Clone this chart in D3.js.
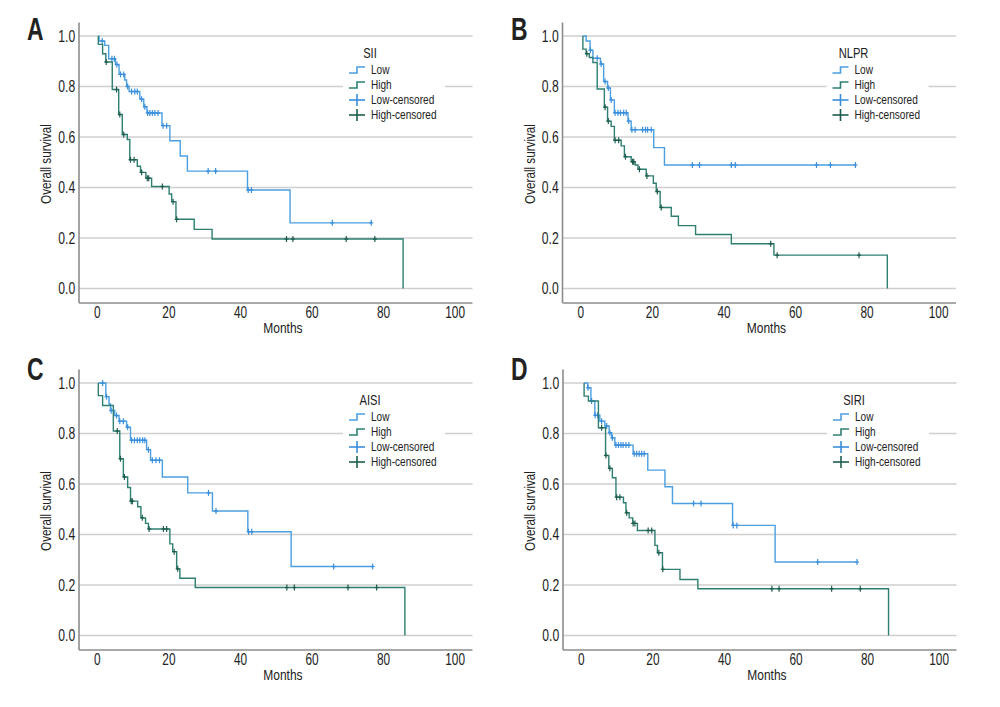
<!DOCTYPE html>
<html>
<head>
<meta charset="utf-8">
<script src="https://cdn.jsdelivr.net/npm/d3@7/dist/d3.min.js"></script>
<style>
html,body{margin:0;padding:0;background:#fff;}
svg{display:block;}
text{font-family:"Liberation Sans",Arial,sans-serif;fill:#222;}
</style>
</head>
<body>
<svg id="chart" width="1000" height="707"></svg>
<script>
// ---------- DATA ----------
const panelLetters = ["A", "B", "C", "D"];
const legendTitles = ["SII", "NLPR", "AISI", "SIRI"];
const legendLabels = ["Low", "High", "Low-censored", "High-censored"];
const xTicks = [0, 20, 40, 60, 80, 100];
const yTicks = [0.0, 0.2, 0.4, 0.6, 0.8, 1.0];
const xTitle = "Months";
const yTitle = "Overall survival";

// Panel A (SII)
const sIILowTimes = [0.4, 0.6, 2.2, 3.3, 5.2, 6.2, 7.8, 8.3, 9.0, 12.0, 13.1, 14.0, 18.2, 20.4, 23.3, 25.3, 42.1, 54.0];
const sIILowSurv  = [1.0, 0.98, 0.963, 0.91, 0.887, 0.848, 0.826, 0.80, 0.78, 0.75, 0.72, 0.695, 0.645, 0.585, 0.525, 0.465, 0.39, 0.26];
const sIILowCens  = [1.5, 4.2, 4.9, 5.6, 6.6, 7.5, 8.6, 9.7, 10.6, 11.3, 12.5, 13.4, 14.2, 14.8, 15.5, 16.2, 17.1, 18.5, 19.5, 31.1, 33.2, 42.3, 43.2, 65.8, 76.7];
const sIIHighTimes = [0.4, 0.4, 1.6, 2.5, 4.3, 6.1, 7.1, 8.5, 9.2, 11.3, 12.2, 13.7, 15.3, 20.2, 20.9, 22.1, 27.2, 32.2, 85.6];
const sIIHighSurv  = [1.0, 0.967, 0.93, 0.897, 0.788, 0.689, 0.61, 0.59, 0.51, 0.484, 0.46, 0.437, 0.404, 0.374, 0.344, 0.274, 0.234, 0.196, 0.0];
const sIIHighCens  = [2.6, 5.5, 6.4, 7.5, 9.4, 10.4, 12.5, 14.1, 14.5, 18.3, 21.3, 22.3, 53.0, 54.8, 69.7, 77.7];

// Panel B (NLPR)
const nlprLowTimes = [0.7, 1.6, 2.7, 3.5, 5.6, 6.5, 7.6, 8.4, 9.5, 13.3, 14.2, 20.5, 23.5];
const nlprLowSurv  = [1.0, 0.98, 0.944, 0.912, 0.889, 0.82, 0.794, 0.747, 0.696, 0.663, 0.629, 0.558, 0.489];
const nlprLowCens  = [2.8, 4.7, 5.8, 6.9, 7.8, 8.6, 9.7, 10.5, 11.2, 12.1, 12.8, 13.5, 14.4, 15.3, 17.4, 18.2, 18.8, 19.8, 31.3, 33.3, 42.2, 43.3, 66.0, 69.9, 76.9];
const nlprHighTimes = [0.7, 0.7, 1.6, 2.5, 3.5, 4.7, 6.7, 7.6, 8.6, 9.5, 11.4, 12.3, 14.2, 15.3, 16.1, 18.4, 20.4, 21.2, 22.3, 25.4, 27.4, 32.2, 42.2, 54.1, 85.8];
const nlprHighSurv  = [1.0, 0.948, 0.93, 0.915, 0.895, 0.79, 0.718, 0.663, 0.642, 0.587, 0.565, 0.522, 0.502, 0.489, 0.472, 0.446, 0.417, 0.384, 0.321, 0.286, 0.249, 0.214, 0.177, 0.132, 0.0];
const nlprHighCens  = [1.8, 6.9, 7.8, 9.7, 10.7, 12.6, 14.6, 14.9, 16.5, 18.6, 21.5, 22.6, 53.2, 55.0, 77.9];

// Panel C (AISI)
const aisiLowTimes = [0.4, 2.5, 3.4, 3.8, 5.0, 6.2, 8.3, 9.4, 13.9, 15.0, 18.3, 25.4, 32.3, 42.2, 54.3];
const aisiLowSurv  = [1.0, 0.946, 0.917, 0.891, 0.871, 0.849, 0.825, 0.773, 0.736, 0.694, 0.628, 0.565, 0.493, 0.411, 0.273];
const aisiLowCens  = [1.6, 2.7, 4.0, 5.5, 6.4, 7.4, 8.6, 9.7, 10.5, 11.3, 12.0, 12.8, 13.4, 14.4, 15.5, 16.5, 17.5, 31.2, 33.3, 42.4, 43.3, 66.2, 77.1];
const aisiHighTimes = [0.4, 0.4, 1.6, 4.6, 6.4, 7.4, 8.6, 9.4, 11.4, 12.3, 13.6, 14.4, 20.4, 21.2, 22.3, 23.2, 27.5, 86.1];
const aisiHighSurv  = [1.0, 0.95, 0.911, 0.81, 0.70, 0.628, 0.586, 0.532, 0.51, 0.466, 0.444, 0.422, 0.363, 0.332, 0.264, 0.227, 0.19, 0.0];
const aisiHighCens  = [5.7, 6.6, 7.7, 9.6, 9.9, 12.7, 14.6, 18.6, 19.5, 21.6, 22.6, 53.1, 55.2, 70.2, 78.2];

// Panel D (SIRI)
const siriLowTimes = [0.9, 1.9, 2.8, 3.9, 5.3, 6.7, 7.9, 8.6, 9.5, 14.6, 18.7, 23.5, 25.6, 42.4, 54.3];
const siriLowSurv  = [1.0, 0.981, 0.929, 0.872, 0.849, 0.83, 0.803, 0.783, 0.754, 0.72, 0.655, 0.589, 0.523, 0.436, 0.291];
const siriLowCens  = [2.0, 3.0, 4.0, 4.7, 5.8, 7.2, 8.1, 8.8, 9.8, 10.5, 11.2, 11.8, 12.6, 13.4, 14.9, 15.6, 16.3, 17.0, 17.7, 31.5, 33.6, 42.6, 43.6, 66.2, 77.2];
const siriHighTimes = [0.9, 0.9, 2.1, 4.9, 6.9, 7.8, 8.8, 9.8, 11.9, 12.6, 13.5, 14.5, 15.8, 20.7, 21.4, 22.8, 27.7, 32.7, 86.0];
const siriHighSurv  = [1.0, 0.948, 0.929, 0.823, 0.713, 0.662, 0.625, 0.548, 0.526, 0.486, 0.466, 0.444, 0.416, 0.357, 0.328, 0.262, 0.222, 0.185, 0.0];
const siriHighCens  = [5.8, 7.0, 8.1, 10.0, 10.9, 12.8, 14.6, 15.1, 18.8, 19.8, 21.8, 22.9, 53.4, 55.4, 70.1, 78.1];

const panelsData = [
  {low:[sIILowTimes, sIILowSurv, sIILowCens], high:[sIIHighTimes, sIIHighSurv, sIIHighCens]},
  {low:[nlprLowTimes, nlprLowSurv, nlprLowCens], high:[nlprHighTimes, nlprHighSurv, nlprHighCens]},
  {low:[aisiLowTimes, aisiLowSurv, aisiLowCens], high:[aisiHighTimes, aisiHighSurv, aisiHighCens]},
  {low:[siriLowTimes, siriLowSurv, siriLowCens], high:[siriHighTimes, siriHighSurv, siriHighCens]}
];

// ---------- LAYOUT / STYLE ----------
const panelOrigins = [[79, 22.5], [562.5, 22.5], [79, 369.5], [563, 369.5]];
const letterPos = [[27, 39.5], [511, 39.5], [27, 380], [511, 379.5]];
const colors = {low:"#4b9fe1", high:"#2e7f72", lowCens:"#3a8edb", highCens:"#1d5c4e"};
const W = 393.5, base = 280.5;

const svg = d3.select("#chart");
const x = d3.scaleLinear().domain([-5, 105]).range([0, W]);
const y = d3.scaleLinear().domain([0, 1]).range([266, 13.5]);

function survAt(T, S, t) {
  let s = S[0];
  for (let i = 0; i < T.length; i++) if (T[i] <= t) s = S[i];
  return s;
}

// condensed text helper: real text, horizontally compressed
function ctext(parent, tx, ty, str, size, k, anchor, extra) {
  const t = parent.append("text")
    .attr("transform", `translate(${tx},${ty}) ${extra || ""} scale(${k},1)`)
    .attr("text-anchor", anchor || "start")
    .style("font-size", size + "px")
    .text(str);
  return t;
}

const line = d3.line().x(d => x(d[0])).y(d => y(d[1])).curve(d3.curveStepAfter);

panelsData.forEach((pd, pi) => {
  const [ox, oy] = panelOrigins[pi];
  const g = svg.append("g").attr("transform", `translate(${ox},${oy})`);

  // gridlines
  g.selectAll(".grid").data(yTicks).enter().append("line")
    .attr("x1", 0).attr("x2", W)
    .attr("y1", d => y(d)).attr("y2", d => y(d))
    .attr("stroke", "#cfcfcf").attr("stroke-width", 1.3);

  // y axis
  const yAxis = d3.axisLeft(y).tickValues(yTicks).tickFormat(d3.format(".1f")).tickSize(0).tickPadding(5);
  const ya = g.append("g").call(yAxis);
  ya.select(".domain").remove();
  ya.selectAll("text").style("font-size", "16px").attr("fill", "#222")
    .attr("font-family", "Liberation Sans, Arial, sans-serif")
    .attr("transform", "scale(0.76,1)");
  g.append("line").attr("x1", 0).attr("x2", 0).attr("y1", 0).attr("y2", base)
    .attr("stroke", "#8c8c8c").attr("stroke-width", 1.6);

  // x axis
  const xAxis = d3.axisBottom(x).tickValues(xTicks).tickSize(0).tickPadding(4);
  const xa = g.append("g").attr("transform", `translate(0,${base})`).call(xAxis);
  xa.select(".domain").remove();
  xa.selectAll("text").style("font-size", "16px").attr("fill", "#222")
    .attr("font-family", "Liberation Sans, Arial, sans-serif")
    .attr("transform", "scale(0.74,1)");
  g.append("line").attr("x1", 0).attr("x2", W).attr("y1", base).attr("y2", base)
    .attr("stroke", "#8c8c8c").attr("stroke-width", 1.6);

  // axis titles
  ctext(g, x(52), base + 29.5, xTitle, 15, 0.8, "middle");
  ctext(g, -28, 141.5, yTitle, 15, 0.78, "middle", "rotate(-90)");

  // curves
  const groups = [["low", pd.low], ["high", pd.high]];
  groups.forEach(([key, [T, S, C]]) => {
    const pts = T.map((t, i) => [t, S[i]]);
    if (S[S.length - 1] > 0) pts.push([C[C.length - 1], S[S.length - 1]]);
    g.append("path").datum(pts).attr("d", line)
      .attr("fill", "none").attr("stroke", colors[key]).attr("stroke-width", 1.4);
    const cc = key === "low" ? colors.lowCens : colors.highCens;
    const marks = g.append("g");
    C.forEach(t => {
      const s = survAt(T, S, t);
      marks.append("line").attr("x1", x(t)).attr("x2", x(t)).attr("y1", y(s) - 3).attr("y2", y(s) + 3)
        .attr("stroke", cc).attr("stroke-width", 1.2);
      marks.append("line").attr("x1", x(t) - 2).attr("x2", x(t) + 2).attr("y1", y(s)).attr("y2", y(s))
        .attr("stroke", cc).attr("stroke-width", 1.2);
    });
  });

  // legend
  const lg = g.append("g");
  lg.append("rect").attr("x", 264).attr("y", 18).attr("width", 102).attr("height", 82).attr("fill", "#fff");
  ctext(lg, 291, 35.5, legendTitles[pi], 15.5, 0.72, "middle");
  const rowY = [47.5, 62.5, 77.5, 92.5];
  const symCol = [colors.low, colors.high, colors.lowCens, colors.highCens];
  legendLabels.forEach((lab, i) => {
    const cy = rowY[i];
    if (i < 2) {
      lg.append("path")
        .attr("d", `M270,${cy + 3}H278V${cy - 3}H286`)
        .attr("fill", "none").attr("stroke", symCol[i]).attr("stroke-width", 1.6);
    } else {
      lg.append("line").attr("x1", 270).attr("x2", 286).attr("y1", cy).attr("y2", cy)
        .attr("stroke", symCol[i]).attr("stroke-width", 1.6);
      lg.append("line").attr("x1", 278).attr("x2", 278).attr("y1", cy - 6).attr("y2", cy + 6)
        .attr("stroke", symCol[i]).attr("stroke-width", 1.6);
    }
    ctext(lg, 292, cy + 4.4, lab, 12.3, 0.82, "start");
  });

  // panel letter
  ctext(svg, letterPos[pi][0], letterPos[pi][1], panelLetters[pi], 31, 0.74, "start")
    .style("font-weight", "bold");
});
</script>
</body>
</html>
